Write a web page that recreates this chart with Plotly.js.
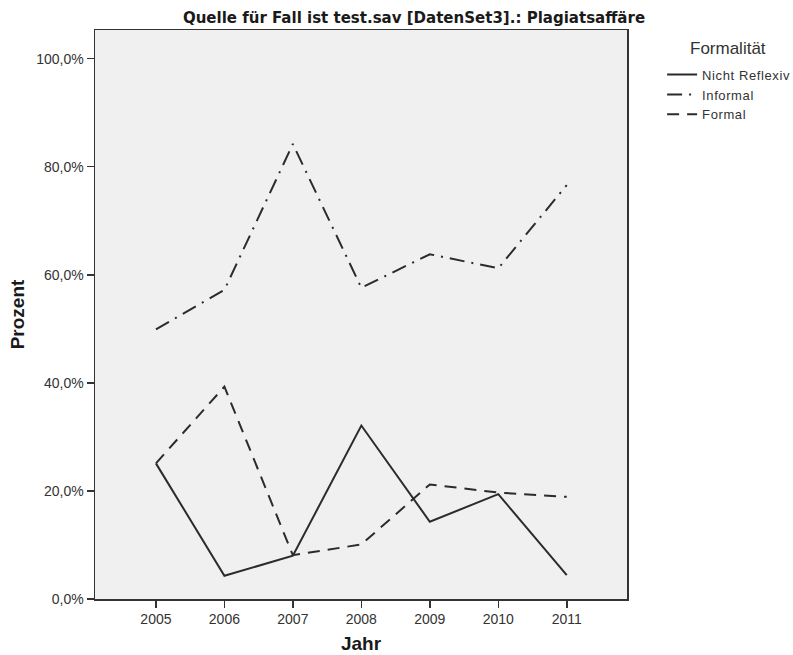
<!DOCTYPE html>
<html>
<head>
<meta charset="utf-8">
<script src="https://cdn.plot.ly/plotly-3.0.1.min.js"></script>
<style>html,body{margin:0;padding:0;background:#fff;}#chart{width:793px;height:655px;}
.legendtext{letter-spacing:0.6px;}</style>
</head>
<body>
<div id="chart"></div>
<script>
const years = [2005, 2006, 2007, 2008, 2009, 2010, 2011];
const yearLabels = ["2005", "2006", "2007", "2008", "2009", "2010", "2011"];
const nichtReflexiv = [25.1, 4.3, 8.0, 32.1, 14.3, 19.4, 4.4];
const informal = [49.9, 57.2, 84.2, 57.6, 63.8, 61.2, 76.6];
const formal = [25.1, 39.3, 8.1, 10.1, 21.2, 19.7, 18.9];
const seriesNames = ["Nicht Reflexiv", "Informal", "Formal"];
const yTickVals = [0, 20, 40, 60, 80, 100];
const yTickText = ["0,0%", "20,0%", "40,0%", "60,0%", "80,0%", "100,0%"];

const lineColor = "#2b2b2b";
const traces = [
  {x: years, y: nichtReflexiv, name: seriesNames[0], mode: "lines",
   line: {color: lineColor, width: 2, dash: "solid"}},
  {x: years, y: informal, name: seriesNames[1], mode: "lines",
   line: {color: lineColor, width: 2, dash: "15px,7px,2px,7px"}},
  {x: years, y: formal, name: seriesNames[2], mode: "lines",
   line: {color: lineColor, width: 2, dash: "12px,8px"}}
];

const baseFont = "Liberation Sans, Arial, sans-serif";
const narrowFont = "Liberation Sans Narrow, Arial Narrow, DejaVu Sans Condensed, sans-serif";

const layout = {
  width: 793, height: 655,
  margin: {l: 95, r: 166, t: 30, b: 56, pad: 0, autoexpand: false},
  paper_bgcolor: "#ffffff",
  plot_bgcolor: "#f0f0f0",
  font: {family: baseFont, color: "#333333", size: 14},
  title: {
    text: "Quelle für Fall ist test.sav [DatenSet3].: Plagiatsaffäre",
    font: {family: narrowFont, size: 16.7, color: "#1a1a1a", weight: "bold"},
    x: 414 / 793, xanchor: "center", xref: "container",
    y: 1 - 17 / 655, yanchor: "middle", yref: "container"
  },
  xaxis: {
    range: [2004.11, 2011.88],
    tickvals: years, ticktext: yearLabels,
    ticks: "outside", ticklen: 7, tickwidth: 1.5, tickcolor: "#333",
    showline: true, linecolor: "#333", linewidth: 1.5, mirror: true,
    showgrid: false, zeroline: false, automargin: false,
    tickfont: {size: 14, color: "#333"},
    title: {text: "Jahr", standoff: 10,
            font: {size: 19, color: "#1a1a1a", weight: "bold", family: baseFont}}
  },
  yaxis: {
    range: [0, 105.3],
    tickvals: yTickVals, ticktext: yTickText,
    ticks: "outside", ticklen: 7, tickwidth: 1.5, tickcolor: "#333",
    showline: true, linecolor: "#333", linewidth: 1.5, mirror: true,
    showgrid: false, zeroline: false, automargin: false,
    tickfont: {size: 14, color: "#333"},
    title: {text: "Prozent", standoff: 6,
            font: {size: 19, color: "#1a1a1a", weight: "bold", family: baseFont}}
  },
  showlegend: true,
  legend: {
    x: 1.066, xanchor: "left", y: 0.948, yanchor: "top",
    bgcolor: "rgba(0,0,0,0)", borderwidth: 0,
    font: {size: 13, color: "#333", family: baseFont},
    tracegroupgap: 0
  },
  annotations: [{
    text: "Formalität", xref: "paper", yref: "paper",
    x: (728 - 95) / 532, y: (599 - 48) / 569, xanchor: "center", yanchor: "middle",
    showarrow: false, font: {size: 17, color: "#333", family: baseFont}
  }]
};

Plotly.newPlot("chart", traces, layout, {displayModeBar: false, staticPlot: true});
</script>
</body>
</html>
